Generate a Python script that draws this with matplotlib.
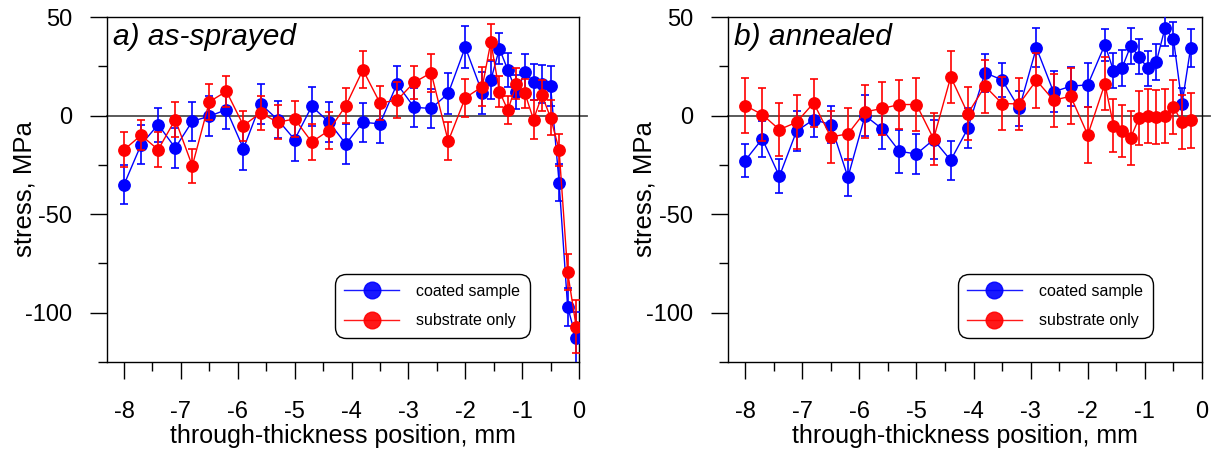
"""
Residual stress profiles: coated sample vs. substrate only
(a) as-sprayed, (b) annealed
"""

import matplotlib
matplotlib.use("Agg")
from matplotlib import pyplot as plt
from matplotlib.lines import Line2D
from matplotlib.ticker import MultipleLocator

plt.rcParams['font.family'] = ['Liberation Sans', 'DejaVu Sans']
plt.rcParams['axes.unicode_minus'] = False

# through-thickness positions, mm
x_a = [-8.0, -7.7, -7.4, -7.1, -6.8, -6.5, -6.2, -5.9, -5.6, -5.3, -5.0,
       -4.7, -4.4, -4.1, -3.8, -3.5, -3.2, -2.9, -2.6, -2.3, -2.0, -1.7,
       -1.55, -1.4, -1.25, -1.1, -0.95, -0.8, -0.65, -0.5, -0.35, -0.2, -0.05]
x_b = [-8.0, -7.7, -7.4, -7.1, -6.8, -6.5, -6.2, -5.9, -5.6, -5.3, -5.0,
       -4.7, -4.4, -4.1, -3.8, -3.5, -3.2, -2.9, -2.6, -2.3, -2.0, -1.7,
       -1.55, -1.4, -1.25, -1.1, -0.95, -0.8, -0.65, -0.5, -0.35, -0.2]

# a) as-sprayed
coated_a = [-35.0, -14.7, -4.6, -16.4, -2.9, -0.3, 3.0, -16.8, 5.9, -2.0, -12.2,
            4.7, -3.2, -14.4, -3.4, -4.2, 16.1, 4.2, 3.6, 11.2, 34.7, 11.5,
            18.0, 34.0, 23.0, 12.0, 22.0, 17.0, 16.0, 15.0, -34.0, -97.0, -113.0]
coated_a_err = [10, 10, 8.6, 10, 10, 10, 10, 11, 10, 9.3, 10.8,
                10, 10, 10, 9.8, 9.8, 9.2, 10, 9.7, 10.4, 10.7, 10.8,
                9.6, 7.7, 8.5, 8.5, 9, 9, 9.5, 10, 9.5, 9.6, 13.5]
substrate_a = [-17.3, -10.0, -17.3, -2.0, -25.5, 7.0, 12.3, -5.1, 1.4, -3.4, -1.7,
               -13.4, -7.6, 5.0, 23.2, 6.4, 7.8, 16.8, 21.7, -13.0, 9.0, 14.7,
               37.4, 12.2, 2.7, 16.2, 11.2, -2.0, 10.2, -1.0, -17.3, -79.4, -107.0]
substrate_a_err = [9, 7.6, 8.9, 8.8, 8.6, 9, 8, 7.6, 8.7, 8.7, 9,
                   9.3, 9.3, 9, 9.4, 8.6, 9, 8.3, 9.5, 9.6, 9.8, 9.9,
                   9.2, 8, 7.2, 8, 7.6, 10, 7.9, 8.9, 8.2, 9.1, 13.5]

# b) annealed
coated_b = [-22.8, -11.8, -30.8, -7.9, -2.0, -4.6, -31.3, 0.0, -6.8, -18.1, -19.5,
            -12.2, -22.7, -6.5, 21.7, 18.1, 3.6, 34.4, 12.0, 14.9, 15.6, 36.0,
            22.8, 24.2, 35.2, 29.8, 24.0, 27.2, 44.2, 38.9, 5.9, 34.2]
coated_b_err = [8.6, 9, 8.7, 10, 8.9, 9.3, 9.3, 10.3, 10, 11, 10,
                10, 10, 10.2, 9.6, 8.5, 9, 10, 10.4, 9.9, 11, 8.1,
                9, 9, 9.1, 8.9, 9, 9, 9.1, 8.6, 8, 9.8]
substrate_b = [5.1, 0.5, -7.1, -3.4, 6.4, -10.8, -9.3, 1.9, 3.6, 5.6, 5.6,
               -11.8, 19.6, 1.0, 14.9, 6.1, 5.9, 17.9, 7.8, 9.8, -9.8, 16.2,
               -5.1, -7.9, -11.3, -1.2, -0.3, -0.8, -0.3, 4.2, -3.2, -2.5]
substrate_b_err = [13.9, 13.6, 13.4, 13.7, 12, 13.3, 13, 13.5, 13.3, 12.5, 13.3,
                   13.1, 13.1, 13.4, 13.4, 13.5, 13.4, 13.9, 13.5, 14.2, 14.2, 13.4,
                   13.4, 13.3, 13.7, 13.6, 13.8, 13.8, 13.8, 13.8, 13.7, 14]

x_ticks = [-8, -7, -6, -5, -4, -3, -2, -1, 0]
y_ticks = [-100, -50, 0, 50]
legend_labels = ["coated sample", "substrate only"]


def draw_panel(ax, x_c, yc, ec, x_s, ys, es, title):
    # zero line, runs a little past the right edge
    ax.plot([-8.3, 0.14], [0, 0], color='0.3', lw=1.3, zorder=1, clip_on=False)

    ax.errorbar(x_c, yc, yerr=ec, fmt='-o', color='blue', ms=8.2, lw=1,
                elinewidth=1.2, capsize=3.2, capthick=1.2, zorder=3)
    ax.errorbar(x_s, ys, yerr=es, fmt='-o', color='red', ms=8.2, lw=1,
                elinewidth=1.2, capsize=3.2, capthick=1.2, zorder=4)

    ax.set_xlim(-8.3, 0)
    ax.set_ylim(-125, 50)
    ax.set_xticks(x_ticks)
    ax.set_xticklabels([str(t) for t in x_ticks])
    ax.set_yticks(y_ticks)
    ax.set_yticklabels([str(t) for t in y_ticks])
    ax.xaxis.set_minor_locator(MultipleLocator(0.5))
    ax.yaxis.set_minor_locator(MultipleLocator(25))
    ax.tick_params(axis='both', which='major', direction='out', length=12,
                   width=1, labelsize=17)
    ax.tick_params(axis='both', which='minor', direction='out', length=6.5, width=1)
    ax.tick_params(axis='y', which='major', pad=13)
    ax.tick_params(axis='x', which='major', pad=16)
    for s in ax.spines.values():
        s.set_linewidth(1)

    ax.set_xlabel("through-thickness position, mm", fontsize=18, labelpad=1)
    ax.set_ylabel("stress, MPa", fontsize=18.5)
    ax.yaxis.set_label_coords(-0.15, 0.5)

    ax.text(0.013, 0.982, title, transform=ax.transAxes, fontsize=21.5,
            style='italic', ha='left', va='top')

    # legend without the error bars in the handles
    handles = [Line2D([], [], color='blue', marker='o', ms=12, lw=1, alpha=0.9),
               Line2D([], [], color='red', marker='o', ms=12, lw=1, alpha=0.9)]
    leg = ax.legend(handles, legend_labels, loc='lower right',
                    bbox_to_anchor=(0.896, 0.07), fontsize=11.5,
                    handlelength=3.4, handletextpad=1.1, labelspacing=0.9,
                    borderpad=0.6, borderaxespad=0, fancybox=True, framealpha=1)
    frame = leg.get_frame()
    frame.set_edgecolor('black')
    frame.set_linewidth(1)
    frame.set_boxstyle('round', pad=0, rounding_size=0.7)


fig = plt.figure(figsize=(12.12, 4.5), dpi=100)
ax_a = fig.add_axes([107 / 1212, 88 / 450, 472 / 1212, 345 / 450])
ax_b = fig.add_axes([728 / 1212, 88 / 450, 474 / 1212, 345 / 450])

draw_panel(ax_a, x_a, coated_a, coated_a_err, x_a, substrate_a, substrate_a_err,
           "a) as-sprayed")
draw_panel(ax_b, x_b, coated_b, coated_b_err, x_b, substrate_b, substrate_b_err,
           "b) annealed")

fig.savefig("out.png", dpi=100)
